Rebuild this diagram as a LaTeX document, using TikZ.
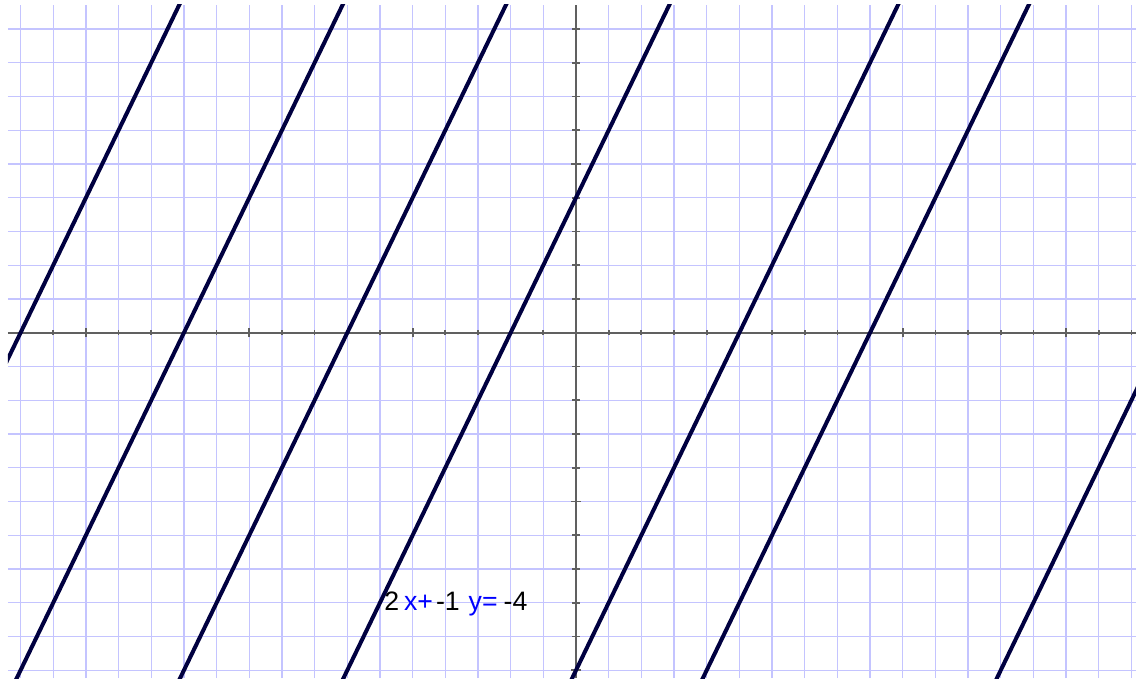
\documentclass[tikz,border=0pt]{standalone}
\usepackage{fontspec}
\setmainfont{Liberation Sans}
\definecolor{gridblue}{RGB}{196,196,255}
\definecolor{axisgray}{RGB}{96,96,96}
\definecolor{curvenavy}{RGB}{0,0,64}
\definecolor{termblue}{RGB}{0,0,255}
\tikzset{
  gridline/.style={gridblue, line width=1pt},
  axisline/.style={axisgray, line width=1.3pt},
  graphline/.style={curvenavy, line width=3pt},
}
\begin{document}
\begin{tikzpicture}[x=24.5pt, y=25.31pt]
  \useasboundingbox (-17.63,-10.231) rectangle (17.14,9.858);
  \fill[white] (-17.63,-10.231) rectangle (17.14,9.858);
  % grid
  \foreach \gx in {-17,...,17}
    \draw[gridline] (\gx,-10.231) -- (\gx,9.71);
  \foreach \gy in {-10,...,9}
    \draw[gridline] (-17.386,\gy) -- (17.14,\gy);
  % axes
  \draw[axisline] (-17.386,0) -- (17.14,0);
  \draw[axisline] (0,-10.231) -- (0,9.71);
  \foreach \tx in {-17,...,17}
    \draw[axisline] (\tx,-0.07) -- (\tx,0.07);
  \foreach \tx in {-15,-10,-5,5,10,15}
    \draw[axisline] (\tx,-0.13) -- (\tx,0.13);
  \foreach \ty in {-10,...,9}
    \draw[axisline] (-0.11,\ty) -- (0.11,\ty);
  \foreach \ty in {-10,-5,5}
    \draw[axisline] (-0.15,\ty) -- (0.15,\ty);
  % lines
  \begin{scope}
    \clip (-17.386,-10.231) rectangle (17.14,9.71);
    \foreach \b in {34,24,14,4,-10,-18,-36}
      \draw[graphline] ({(-10.5-\b)/2},-10.5) -- ({(10-\b)/2},10);
  \end{scope}
  \node[anchor=base west, inner sep=0pt, font=\fontsize{20pt}{20pt}\selectfont] (eqn) at (-5.877,-8.216)
    {2\hspace{3.75pt}{\color{termblue}x+}\hspace{2.25pt}-1\hspace{6.75pt}{\color{termblue}y=}\hspace{4.5pt}-4};
\end{tikzpicture}
\end{document}
